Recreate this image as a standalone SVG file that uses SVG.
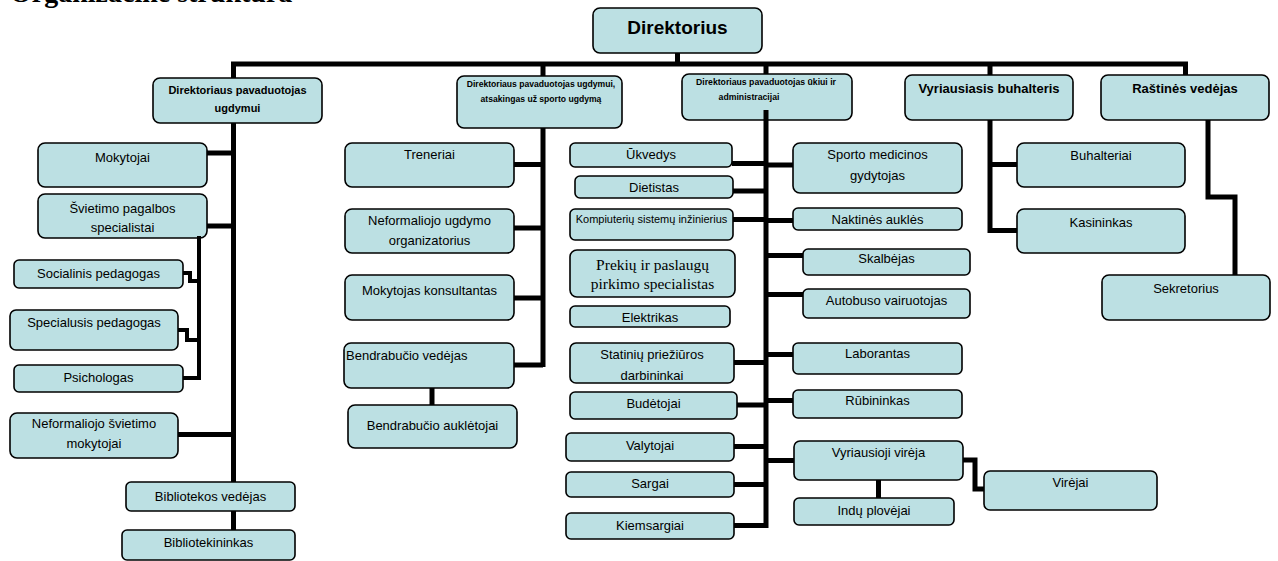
<svg xmlns="http://www.w3.org/2000/svg" width="1278" height="561" viewBox="0 0 1278 561">
<style>
.b{fill:#bce0e3;stroke:#000;stroke-width:1.6}
.t{font-family:"Liberation Sans",Arial,sans-serif;font-size:13px;fill:#000;text-anchor:middle}
.bd{font-weight:bold}
.s{font-family:"Liberation Serif","Times New Roman",serif;font-size:15.5px;text-anchor:middle}
.c{fill:none;stroke:#000;stroke-width:5;stroke-linejoin:miter}
.c2{fill:none;stroke:#000;stroke-width:4}
</style>
<defs><clipPath id="clipStat"><rect x="570" y="343" width="164" height="39"/></clipPath></defs>
<text x="10" y="2" style="font-family:'Liberation Serif',serif;font-weight:bold;font-size:28px">Organizacinė struktūra</text>
<g id="n-direktorius"><rect class="b" x="593" y="8" width="169" height="45" rx="7"/><text class="t bd" x="677.5" y="34" style="font-size:19px">Direktorius</text></g>
<g id="n-pav-ugdymui"><rect class="b" x="153" y="78" width="169" height="45" rx="7"/><text class="t bd" x="237.5" y="94" style="font-size:11px">Direktoriaus pavaduotojas</text><text class="t bd" x="237.5" y="112" style="font-size:11px">ugdymui</text></g>
<g id="n-pav-sporto"><rect class="b" x="457" y="76" width="165" height="52" rx="7"/><text class="t bd" x="541" y="87" style="font-size:8.6px">Direktoriaus pavaduotojas ugdymui,</text><text class="t bd" x="541" y="102" style="font-size:8.6px">atsakingas už sporto ugdymą</text></g>
<g id="n-pav-ukio"><rect class="b" x="682" y="74" width="170" height="46" rx="7"/><text class="t bd" x="766" y="85" style="font-size:8.7px">Direktoriaus pavaduotojas ūkiui ir</text><text class="t bd" x="749" y="100" style="font-size:8.7px">administracijai</text></g>
<g id="n-buhalteris"><rect class="b" x="905" y="75" width="168" height="45" rx="7"/><text class="t bd" x="989" y="93">Vyriausiasis buhalteris</text></g>
<g id="n-rastines"><rect class="b" x="1101" y="75" width="168" height="45" rx="7"/><text class="t bd" x="1185" y="93">Raštinės vedėjas</text></g>

<g id="n-mokytojai"><rect class="b" x="38" y="143" width="169" height="44" rx="7"/><text class="t" x="122.5" y="162">Mokytojai</text></g>
<g id="n-svietimo"><rect class="b" x="38" y="194" width="169" height="44" rx="7"/><text class="t" x="122.5" y="213">Švietimo pagalbos</text><text class="t" x="122.5" y="232">specialistai</text></g>
<g id="n-socialinis"><rect class="b" x="14" y="260" width="169" height="28" rx="5"/><text class="t" x="98.5" y="278">Socialinis pedagogas</text></g>
<g id="n-specialusis"><rect class="b" x="10" y="310" width="168" height="40" rx="6"/><text class="t" x="94" y="327">Specialusis  pedagogas</text></g>
<g id="n-psichologas"><rect class="b" x="14" y="365" width="169" height="27" rx="5"/><text class="t" x="98.5" y="382">Psichologas</text></g>
<g id="n-neform-sviet"><rect class="b" x="10" y="413" width="168" height="45" rx="7"/><text class="t" x="94" y="428">Neformaliojo švietimo</text><text class="t" x="94" y="448">mokytojai</text></g>
<g id="n-bibl-vedejas"><rect class="b" x="126" y="482" width="169" height="29" rx="5"/><text class="t" x="210.5" y="501">Bibliotekos vedėjas</text></g>
<g id="n-bibliotekininkas"><rect class="b" x="122" y="530" width="173" height="30" rx="5"/><text class="t" x="208.5" y="547">Bibliotekininkas</text></g>

<g id="n-treneriai"><rect class="b" x="345" y="143" width="169" height="44" rx="7"/><text class="t" x="429.5" y="159">Treneriai</text></g>
<g id="n-neform-ugd"><rect class="b" x="345" y="209" width="169" height="44" rx="7"/><text class="t" x="429.5" y="225">Neformaliojo ugdymo</text><text class="t" x="429.5" y="245">organizatorius</text></g>
<g id="n-mok-kons"><rect class="b" x="345" y="275" width="169" height="45" rx="7"/><text class="t" x="429.5" y="295">Mokytojas konsultantas</text></g>
<g id="n-bendr-vedejas"><rect class="b" x="344" y="343" width="170" height="45" rx="7"/><text class="t" x="346" y="360" style="text-anchor:start">Bendrabučio vedėjas</text></g>
<g id="n-bendr-aukl"><rect class="b" x="348" y="405" width="169" height="43" rx="7"/><text class="t" x="432.5" y="430">Bendrabučio auklėtojai</text></g>

<g id="n-ukvedys"><rect class="b" x="570" y="143" width="162" height="24" rx="5"/><text class="t" x="651" y="159">Ūkvedys</text></g>
<g id="n-dietistas"><rect class="b" x="575" y="176" width="158" height="22" rx="5"/><text class="t" x="654" y="192">Dietistas</text></g>
<g id="n-kompiuteriu"><rect class="b" x="570" y="209" width="163" height="31" rx="5"/><text class="t" x="651.5" y="223" style="font-size:11px">Kompiuterių sistemų inžinierius</text></g>
<g id="n-prekiu"><rect class="b" x="570" y="250" width="165" height="47" rx="7"/><text class="s" x="652.5" y="270">Prekių ir paslaugų</text><text class="s" x="652.5" y="289">pirkimo specialistas</text></g>
<g id="n-elektrikas"><rect class="b" x="570" y="306" width="160" height="21" rx="5"/><text class="t" x="650" y="322">Elektrikas</text></g>
<g id="n-statiniu"><rect class="b" x="570" y="343" width="164" height="40" rx="6"/><g clip-path="url(#clipStat)"><text class="t" x="652" y="359">Statinių priežiūros</text><text class="t" x="652" y="380">darbininkai</text></g></g>
<g id="n-budetojai"><rect class="b" x="570" y="392" width="167" height="27" rx="5"/><text class="t" x="653.5" y="408">Budėtojai</text></g>
<g id="n-valytojai"><rect class="b" x="566" y="433" width="168" height="28" rx="5"/><text class="t" x="650" y="450">Valytojai</text></g>
<g id="n-sargai"><rect class="b" x="566" y="472" width="168" height="25" rx="5"/><text class="t" x="650" y="488">Sargai</text></g>
<g id="n-kiemsargiai"><rect class="b" x="566" y="513" width="168" height="26" rx="5"/><text class="t" x="650" y="530">Kiemsargiai</text></g>

<g id="n-sporto-med"><rect class="b" x="793" y="143" width="169" height="50" rx="7"/><text class="t" x="877.5" y="159">Sporto medicinos</text><text class="t" x="877.5" y="180">gydytojas</text></g>
<g id="n-naktines"><rect class="b" x="793" y="208" width="169" height="22" rx="5"/><text class="t" x="877.5" y="224">Naktinės auklės</text></g>
<g id="n-skalbejas"><rect class="b" x="803" y="249" width="167" height="26" rx="5"/><text class="t" x="886.5" y="263">Skalbėjas</text></g>
<g id="n-autobuso"><rect class="b" x="803" y="289" width="167" height="29" rx="5"/><text class="t" x="886.5" y="305">Autobuso  vairuotojas</text></g>
<g id="n-laborantas"><rect class="b" x="793" y="343" width="169" height="31" rx="5"/><text class="t" x="877.5" y="358">Laborantas</text></g>
<g id="n-rubininkas"><rect class="b" x="793" y="390" width="169" height="28" rx="5"/><text class="t" x="877.5" y="405">Rūbininkas</text></g>
<g id="n-vyr-vireja"><rect class="b" x="794" y="441" width="169" height="39" rx="6"/><text class="t" x="878.5" y="457">Vyriausioji virėja</text></g>
<g id="n-indu"><rect class="b" x="794" y="498" width="160" height="27" rx="5"/><text class="t" x="874" y="515">Indų plovėjai</text></g>
<g id="n-vireja"><rect class="b" x="984" y="471" width="173" height="39" rx="6"/><text class="t" x="1070.5" y="487">Virėjai</text></g>

<g id="n-buhalteriai"><rect class="b" x="1017" y="143" width="168" height="44" rx="7"/><text class="t" x="1101" y="160">Buhalteriai</text></g>
<g id="n-kasininkas"><rect class="b" x="1017" y="209" width="168" height="44" rx="7"/><text class="t" x="1101" y="227">Kasininkas</text></g>
<g id="n-sekretorius"><rect class="b" x="1102" y="275" width="168" height="45" rx="7"/><text class="t" x="1186" y="293">Sekretorius</text></g>

<g id="connectors">
<path class="c" d="M233.5,78 V64 H1185.5 V75 M677.5,53 V64 M543,64 V76 M766,64 V74 M990,64 V75"/>
<path class="c" d="M233.5,123 V482 M207,153 H233.5 M207,226 H233.5 M178,434.5 H233.5 M233.5,511 V530"/>
<path class="c2" d="M199,236 V380 M183,273 H190 V281 H199 M178,330 H187 V340 H199 M183,378 H199"/>
<path class="c" d="M543,128 V367 M514,164.5 H543 M514,228 H543 M514,298 H543 M514,365 H543 M432,388 V405"/>
<path class="c" d="M766,110 V528 M732,163.5 H766 M733,191 H766 M733,219.5 H766 M734,362.5 H766 M737,405 H766 M734,446.5 H766 M734,484.5 H766 M734,525.5 H766"/>
<path class="c" d="M766,165 H793 M766,220.5 H793 M766,255.5 H803 M766,294.5 H803 M766,354.5 H793 M766,400.5 H793 M766,460.5 H794 M878.5,480 V498 M963,460 H975 V489 H984"/>
<path class="c" d="M990,120 V230.5 H1017 M990,164.5 H1017 M1208,120 V197 H1235 V275"/>
</g>
</svg>
